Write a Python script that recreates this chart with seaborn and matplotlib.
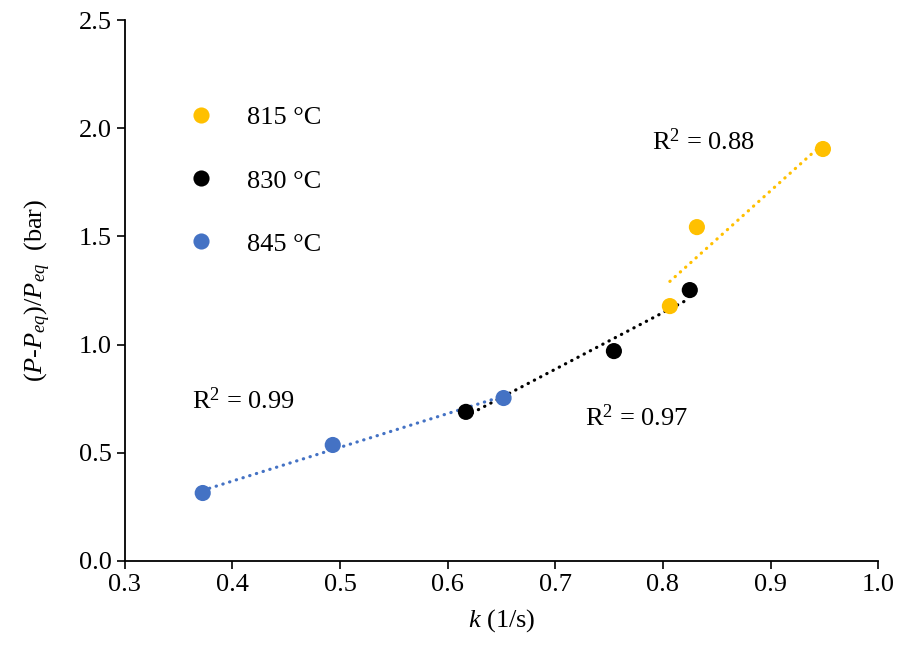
import numpy as np
import pandas as pd
import matplotlib
matplotlib.use("Agg")
import matplotlib.pyplot as plt
import seaborn as sns

# data
k_815 = [0.8065, 0.8316, 0.9487]
p_815 = [1.178, 1.543, 1.904]
k_830 = [0.617, 0.7545, 0.825]
p_830 = [0.689, 0.970, 1.252]
k_845 = [0.3725, 0.4933, 0.652]
p_845 = [0.314, 0.536, 0.753]
series = ["815 °C", "830 °C", "845 °C"]
r2_labels = ["R$^2$ = 0.88", "R$^2$ = 0.97", "R$^2$ = 0.99"]
colors = ["#FFC000", "#000000", "#4472C4"]

df = pd.DataFrame({
    "k": k_815 + k_830 + k_845,
    "p": p_815 + p_830 + p_845,
    "T": [series[0]] * 3 + [series[1]] * 3 + [series[2]] * 3,
})

sns.set_style("white")
plt.rcParams["font.family"] = ["Liberation Serif", "DejaVu Serif"]
plt.rcParams["mathtext.fontset"] = "custom"
plt.rcParams["mathtext.rm"] = "Liberation Serif"
plt.rcParams["mathtext.it"] = "Liberation Serif:italic"
plt.rcParams["text.color"] = "black"
plt.rcParams["axes.labelcolor"] = "black"
plt.rcParams["xtick.color"] = "black"
plt.rcParams["ytick.color"] = "black"

FS = 19

fig = plt.figure(figsize=(8.97, 6.47), dpi=100)
ax = fig.add_axes([0.139, 0.133, 0.840, 0.836])

palette = dict(zip(series, colors))
for s, c in zip(series, colors):
    sub = df[df["T"] == s]
    sns.regplot(data=sub, x="k", y="p", ax=ax, scatter=False, ci=None,
                color=c, truncate=True,
                line_kws=dict(linestyle=(0, (0.1, 2.1)), linewidth=2.3,
                              dash_capstyle="round"))
sns.scatterplot(data=df, x="k", y="p", hue="T", palette=palette, s=135,
                edgecolor="none", ax=ax, zorder=3, legend=True)

ax.set_xlim(0.3, 1.0)
ax.set_ylim(0.0, 2.5)
ax.set_xticks(np.arange(0.3, 1.01, 0.1))
ax.set_yticks(np.arange(0.0, 2.51, 0.5))
ax.xaxis.set_major_formatter(matplotlib.ticker.FormatStrFormatter("%.1f"))
ax.yaxis.set_major_formatter(matplotlib.ticker.FormatStrFormatter("%.1f"))
ax.tick_params(axis="both", labelsize=FS, length=6, width=1.2, color="black",
               labelcolor="black", direction="out", bottom=True, left=True)
for sp in ["top", "right"]:
    ax.spines[sp].set_visible(False)
for sp in ["left", "bottom"]:
    ax.spines[sp].set_color("black")
    ax.spines[sp].set_linewidth(1.3)

ax.set_xlabel(r"$\mathit{k}$ (1/s)", fontsize=FS, labelpad=8)
ax.set_ylabel(r"($\mathit{P}$-$\mathit{P}_{eq}$)/$\mathit{P}_{eq}$  (bar)",
              fontsize=FS, labelpad=18)

handles, labels = ax.get_legend_handles_labels()
ax.legend(handles, labels, loc="upper left", bbox_to_anchor=(0.035, 0.885),
          frameon=False, fontsize=FS, labelspacing=1.5, handletextpad=0.75,
          markerscale=1.0, labelcolor="black")

ax.text(0.79, 1.94, r2_labels[0], fontsize=FS, ha="left", va="center")
ax.text(0.728, 0.661, r2_labels[1], fontsize=FS, ha="left", va="center")
ax.text(0.363, 0.74, r2_labels[2], fontsize=FS, ha="left", va="center")

fig.savefig("out.png", dpi=100)
